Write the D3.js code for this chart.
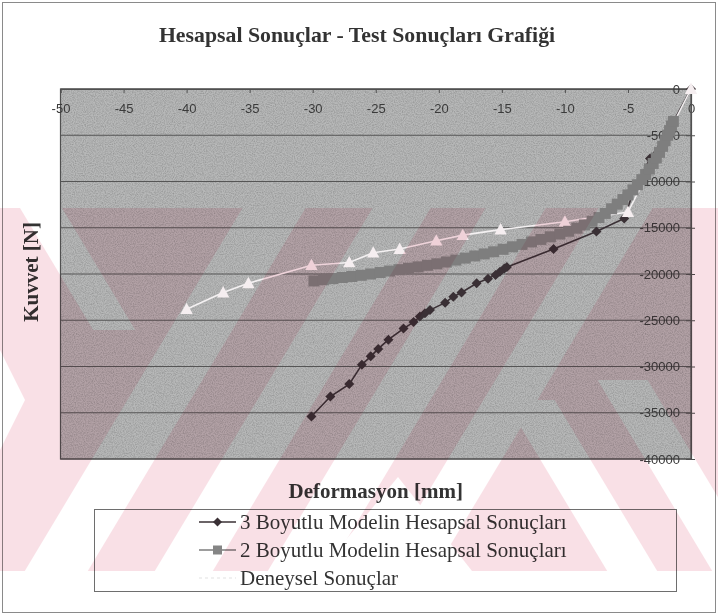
<!DOCTYPE html>
<html>
<head>
<meta charset="utf-8">
<script src="https://cdn.jsdelivr.net/npm/d3@7"></script>
<style>
  html, body { margin: 0; padding: 0; background: #fff; }
  svg { display: block; }
</style>
</head>
<body>
<div id="chart"></div>
<script>
// ---- Data ----
const xTicks = [-50, -45, -40, -35, -30, -25, -20, -15, -10, -5, 0];
const yTicks = [0, -5000, -10000, -15000, -20000, -25000, -30000, -35000, -40000];

// 3 Boyutlu model: [deformasyon mm, kuvvet N]
const model3D = [
  [0, 0], [-1.9, -4800], [-3.25, -7500], [-4.5, -10800],
  [-5.3, -14000], [-7.5, -15400], [-10.9, -17300], [-14.6, -19250],
  [-14.8, -19400], [-15.15, -19750], [-15.5, -20100], [-16.1, -20500],
  [-17.0, -21000], [-18.2, -22000], [-18.85, -22450], [-19.5, -23100],
  [-20.7, -23900], [-21.1, -24250], [-21.5, -24600], [-22.0, -25200],
  [-22.8, -25900], [-24.0, -27100], [-24.8, -28100], [-25.4, -28900],
  [-26.1, -29800], [-27.1, -31900], [-28.6, -33250], [-30.1, -35400]
];

// 2 Boyutlu model: [deformasyon mm, kuvvet N]
const model2D = [
  [-29.9, -20750], [-29.15, -20620], [-28.4, -20500], [-27.65, -20380],
  [-26.9, -20270], [-26.15, -20140], [-25.4, -20000], [-24.65, -19840],
  [-23.9, -19680], [-23.15, -19530], [-22.4, -19380], [-21.65, -19230],
  [-20.9, -19060], [-20.15, -18900], [-19.4, -18700], [-18.65, -18500],
  [-17.9, -18280], [-17.15, -18050], [-16.4, -17830], [-15.65, -17600],
  [-14.9, -17330], [-14.15, -17060], [-13.4, -16800], [-12.65, -16530],
  [-11.9, -16260], [-11.15, -15980], [-10.4, -15680], [-9.7, -15380],
  [-9.05, -15050], [-8.45, -14700], [-7.85, -14300], [-7.3, -13900],
  [-6.8, -13450], [-6.3, -12950], [-5.85, -12450], [-5.4, -11950],
  [-5.0, -11450], [-4.6, -10900], [-4.25, -10350], [-3.9, -9800],
  [-3.6, -9250], [-3.3, -8650], [-3.0, -8050], [-2.75, -7450],
  [-2.5, -6850], [-2.25, -6200], [-2.05, -5600], [-1.85, -5000],
  [-1.7, -4500], [-1.55, -4000], [-1.4, -3500]
];

// Deneysel sonuçlar: [deformasyon mm, kuvvet N]
const experiment = [
  [0, 0], [-5.0, -13300], [-10.0, -14350], [-15.1, -15200], [-18.1, -15800],
  [-20.2, -16400], [-23.1, -17300], [-25.2, -17700], [-27.1, -18750],
  [-30.1, -19050], [-35.1, -21000], [-37.1, -22000], [-40.0, -23800]
];

const legendLabels = [
  "3 Boyutlu Modelin Hesapsal Sonuçları",
  "2 Boyutlu Modelin Hesapsal Sonuçları",
  "Deneysel Sonuçlar"
];

// ---- Layout ----
const W = 718, H = 614;
const plot = { left: 60.5, right: 691, top: 89, bottom: 459 };

const svg = d3.select("#chart").append("svg")
  .attr("width", W).attr("height", H);

const defs = svg.append("defs");

// fine grain for the plot background
const grain = defs.append("filter").attr("id", "grain")
  .attr("x", 0).attr("y", 0).attr("width", "100%").attr("height", "100%");
grain.append("feTurbulence").attr("type", "fractalNoise")
  .attr("baseFrequency", 0.9).attr("numOctaves", 2).attr("seed", 3).attr("result", "n");
grain.append("feColorMatrix").attr("type", "matrix")
  .attr("values", "0 0 0 0 0  0 0 0 0 0  0 0 0 0 0  0 0 0 -1.6 1.05");

svg.append("rect").attr("width", W).attr("height", H).attr("fill", "#fff");

// outer frame
svg.append("rect").attr("x", 2.5).attr("y", 2.5).attr("width", W - 5).attr("height", H - 4)
  .attr("fill", "none").attr("stroke", "#8a8a8a").attr("stroke-width", 1);

const x = d3.scaleLinear().domain([-50, 0]).range([plot.left, plot.right]);
const y = d3.scaleLinear().domain([-40000, 0]).range([plot.bottom, plot.top]);

// plot background
svg.append("rect")
  .attr("x", plot.left).attr("y", plot.top)
  .attr("width", plot.right - plot.left).attr("height", plot.bottom - plot.top)
  .attr("fill", "#b7b8b8");
svg.append("rect")
  .attr("x", plot.left).attr("y", plot.top)
  .attr("width", plot.right - plot.left).attr("height", plot.bottom - plot.top)
  .attr("fill", "#000").attr("filter", "url(#grain)").attr("opacity", 0.2);

// horizontal gridlines
svg.append("g").selectAll("line").data(yTicks).join("line")
  .attr("x1", plot.left).attr("x2", plot.right)
  .attr("y1", d => y(d)).attr("y2", d => y(d))
  .attr("stroke", "#555").attr("stroke-width", 1);

// plot border
svg.append("rect")
  .attr("x", plot.left).attr("y", plot.top)
  .attr("width", plot.right - plot.left).attr("height", plot.bottom - plot.top)
  .attr("fill", "none").attr("stroke", "#505050").attr("stroke-width", 1.2);

// x axis along the top (y = 0), labels hang inside the plot
const xAxis = svg.append("g")
  .attr("transform", `translate(0,${plot.top})`)
  .call(d3.axisBottom(x).tickValues(xTicks).tickFormat(d => String(d))
    .tickSize(4).tickPadding(11));
xAxis.select(".domain").attr("stroke", "#505050");
xAxis.selectAll(".tick line").attr("stroke", "#505050");
xAxis.selectAll("text")
  .attr("font-family", "'Liberation Sans', Arial, sans-serif")
  .attr("font-size", 13).attr("fill", "#3a3a3a");

// y axis along the right edge (x = 0), labels inside the plot
const yAxis = svg.append("g")
  .attr("transform", `translate(${plot.right},0)`)
  .call(d3.axisLeft(y).tickValues(yTicks).tickFormat(d => String(d))
    .tickSize(5).tickPadding(6));
yAxis.select(".domain").attr("stroke", "#505050").attr("stroke-width", 1.2);
yAxis.selectAll(".tick line").attr("stroke", "#505050").attr("x2", 4).attr("x1", -5);
yAxis.selectAll("text")
  .attr("font-family", "'Liberation Sans', Arial, sans-serif")
  .attr("font-size", 13).attr("fill", "#3a3a3a");

const line = d3.line().x(d => x(d[0])).y(d => y(d[1]));

const diamond = r => `M0,${-r}L${r},0L0,${r}L${-r},0Z`;
const triangle = r => `M0,${-r}L${r * 0.95},${r * 0.75}L${-r * 0.95},${r * 0.75}Z`;

// 3D model: dark line with diamonds
const g3 = svg.append("g");
g3.append("path").datum(model3D).attr("d", line)
  .attr("fill", "none").attr("stroke", "#3a3035").attr("stroke-width", 1.6);
g3.selectAll("path.m").data(model3D).join("path").attr("class", "m")
  .attr("transform", d => `translate(${x(d[0])},${y(d[1])})`)
  .attr("d", diamond(5)).attr("fill", "#3a3035");

// experimental: white line with pale triangles
const ge = svg.append("g");
ge.append("path").datum(experiment).attr("d", line)
  .attr("fill", "none").attr("stroke", "#f4f1f2").attr("stroke-width", 1.6);
ge.selectAll("path.m").data(experiment).join("path").attr("class", "m")
  .attr("transform", d => `translate(${x(d[0])},${y(d[1])})`)
  .attr("d", triangle(6.5)).attr("fill", "#f5eef0");

// 2D model: dense gray squares, drawn on top
const g2 = svg.append("g");
g2.append("path").datum(model2D).attr("d", line)
  .attr("fill", "none").attr("stroke", "#7c7c7c").attr("stroke-width", 2);
g2.selectAll("rect").data(model2D).join("rect")
  .attr("x", d => x(d[0]) - 5.5).attr("y", d => y(d[1]) - 5.5)
  .attr("width", 11).attr("height", 11)
  .attr("fill", "#7e7e7e");

// titles
const serif = "'Liberation Serif', 'Times New Roman', serif";
svg.append("text").attr("x", 357).attr("y", 41.5)
  .attr("text-anchor", "middle").attr("font-family", serif)
  .attr("font-weight", "bold").attr("font-size", 21.8).attr("fill", "#333")
  .text("Hesapsal Sonuçlar - Test Sonuçları Grafiği");

svg.append("text").attr("x", (plot.left + plot.right) / 2).attr("y", 497.5)
  .attr("text-anchor", "middle").attr("font-family", serif)
  .attr("font-weight", "bold").attr("font-size", 21).attr("fill", "#333")
  .text("Deformasyon [mm]");

svg.append("text")
  .attr("transform", `translate(38,272) rotate(-90)`)
  .attr("text-anchor", "middle").attr("font-family", serif)
  .attr("font-weight", "bold").attr("font-size", 21).attr("fill", "#333")
  .text("Kuvvet [N]");

// legend
const lg = svg.append("g");
lg.append("rect").attr("x", 94.5).attr("y", 509.5).attr("width", 582).attr("height", 82)
  .attr("fill", "#fff").attr("stroke", "#6e6e6e").attr("stroke-width", 1);
const rowY = [522, 550, 578];
const sx1 = 199, sx2 = 236, sxm = 217.5;
lg.append("line").attr("x1", sx1).attr("x2", sx2).attr("y1", rowY[0]).attr("y2", rowY[0])
  .attr("stroke", "#3a3035").attr("stroke-width", 1.6);
lg.append("path").attr("transform", `translate(${sxm},${rowY[0]})`)
  .attr("d", diamond(4.5)).attr("fill", "#3a3035");
lg.append("line").attr("x1", sx1).attr("x2", sx2).attr("y1", rowY[1]).attr("y2", rowY[1])
  .attr("stroke", "#7c7c7c").attr("stroke-width", 1.6);
lg.append("rect").attr("x", sxm - 4.5).attr("y", rowY[1] - 4.5).attr("width", 9).attr("height", 9)
  .attr("fill", "#858585");
lg.append("line").attr("x1", sx1).attr("x2", sx2).attr("y1", rowY[2]).attr("y2", rowY[2])
  .attr("stroke", "#e2e2e2").attr("stroke-width", 1.2).attr("stroke-dasharray", "3,3");
lg.selectAll("text").data(legendLabels).join("text")
  .attr("x", 240).attr("y", (d, i) => rowY[i] + 7)
  .attr("font-family", serif).attr("font-size", 21).attr("fill", "#333")
  .text(d => d);

// background watermark: pink band broken by light diagonal stripes
const bandTop = 208, bandBottom = 571, bandH = bandBottom - bandTop;
const k = 0.6;
// a stripe: x-range [a,b] at reference height yr, running from y1 to y2 with slope s (dx per dy)
const stripe = (a, b, yr, y1, y2, s) => [
  [a + s * (y1 - yr), y1], [b + s * (y1 - yr), y1],
  [b + s * (y2 - yr), y2], [a + s * (y2 - yr), y2]
];
const lightShapes = [
  stripe(92, 155, 459, bandTop, bandBottom, -k),
  stripe(222, 280, 459, bandTop, bandBottom, -k),
  stripe(335, 395, 459, bandTop, bandBottom, -k),
  stripe(448, 502, 459, bandTop, bandBottom, -k),
  stripe(540, 590, 459, 400, bandBottom, k),
  stripe(645, 695, 459, 380, bandBottom, k),
  stripe(20, 62, bandTop, bandTop, 330, k),
  [[398, 477], [472, 571], [320, 571]],
  [[0, 350], [25, 400], [0, 450]]
];
const mask = defs.append("mask").attr("id", "wm");
mask.append("rect").attr("x", 0).attr("y", bandTop).attr("width", W).attr("height", bandH).attr("fill", "#fff");
mask.selectAll("polygon").data(lightShapes).join("polygon")
  .attr("points", s => s.map(p => p.join(",")).join(" "))
  .attr("fill", "#000");
svg.append("rect").attr("x", 0).attr("y", bandTop).attr("width", W).attr("height", bandH)
  .attr("fill", "#f9e0e6").attr("mask", "url(#wm)")
  .style("mix-blend-mode", "multiply");
</script>
</body>
</html>
